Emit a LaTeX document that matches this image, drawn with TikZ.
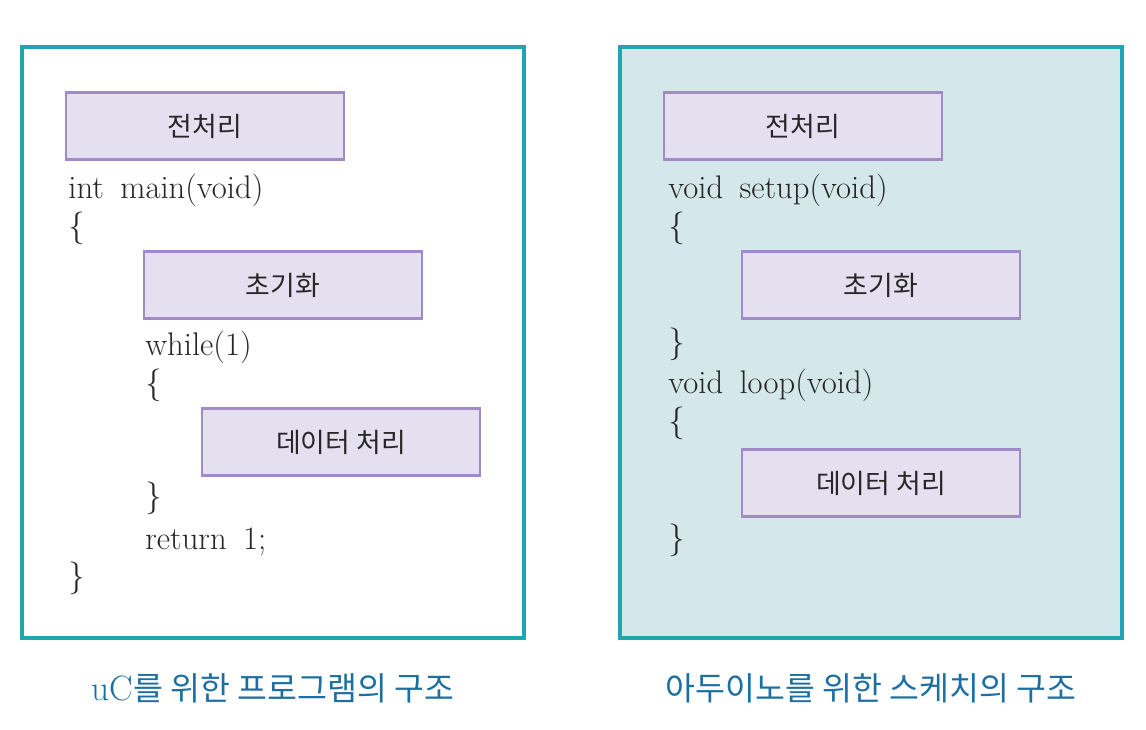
\documentclass[tikz,border=0pt]{standalone}
\usepackage{fontspec}
\usepackage{tikz}
\newfontfamily\kr{Noto Sans CJK KR}
\definecolor{frameteal}{HTML}{1FA6AF}
\definecolor{panelfill}{HTML}{D4E7EB}
\definecolor{boxline}{HTML}{A08AC8}
\definecolor{boxfill}{HTML}{E4E0F0}
\definecolor{codegray}{HTML}{262626}
\definecolor{capblue}{HTML}{1B6FA2}
\newcommand{\gap}{\hspace{0.5em}}

\begin{document}
\begin{tikzpicture}[x=0.02cm, y=-0.02cm,
    panel/.style={draw=frameteal, line width=2.2pt},
    block/.style={draw=boxline, fill=boxfill, line width=1.4pt, minimum width=5.56cm,
        minimum height=1.34cm, inner sep=0pt, text=codegray, font=\kr\fontsize{15.3}{17}\selectfont},
    code/.style={anchor=west, inner sep=0pt, text=codegray, font=\fontsize{18.6}{20}\selectfont},
    caption/.style={text=capblue, font=\kr\fontsize{18.5}{20}\selectfont}]
    \useasboundingbox (0,0) rectangle (1146,730);

    % left: uC program
    \draw[panel] (22,47) rectangle (524,638);
    \node[block] (pre1) at (205,126) {전처리};
    \node[code] (main) at (68,190) {int\gap main(void)};
    \node[code] (ob1) at (68,228) {\{};
    \node[block] (init1) at (283,285) {초기화};
    \node[code] (while) at (145,347) {while(1)};
    \node[code] (ob2) at (145,385) {\{};
    \node[block] (data1) at (341,442) {데이터 처리};
    \node[code] (cb2) at (145,498) {\}};
    \node[code] (ret) at (145,542) {return\gap 1;};
    \node[code] (cb1) at (68,578) {\}};
    \node[caption] (cap1) at (273,688) {{\rmfamily\fontsize{20}{22}\selectfont uC}를 위한 프로그램의 구조};

    % right: Arduino sketch
    \draw[panel, fill=panelfill] (620,47) rectangle (1122,638);
    \node[block] (pre2) at (803,126) {전처리};
    \node[code] (setup) at (668,190) {void\gap setup(void)};
    \node[code] (ob3) at (668,228) {\{};
    \node[block] (init2) at (881,285) {초기화};
    \node[code] (cb3) at (668,344) {\}};
    \node[code] (loop) at (668,385) {void\gap loop(void)};
    \node[code] (ob4) at (668,423) {\{};
    \node[block] (data2) at (881,483) {데이터 처리};
    \node[code] (cb4) at (668,540) {\}};
    \node[caption] (cap2) at (871,688) {아두이노를 위한 스케치의 구조};
\end{tikzpicture}
\end{document}
